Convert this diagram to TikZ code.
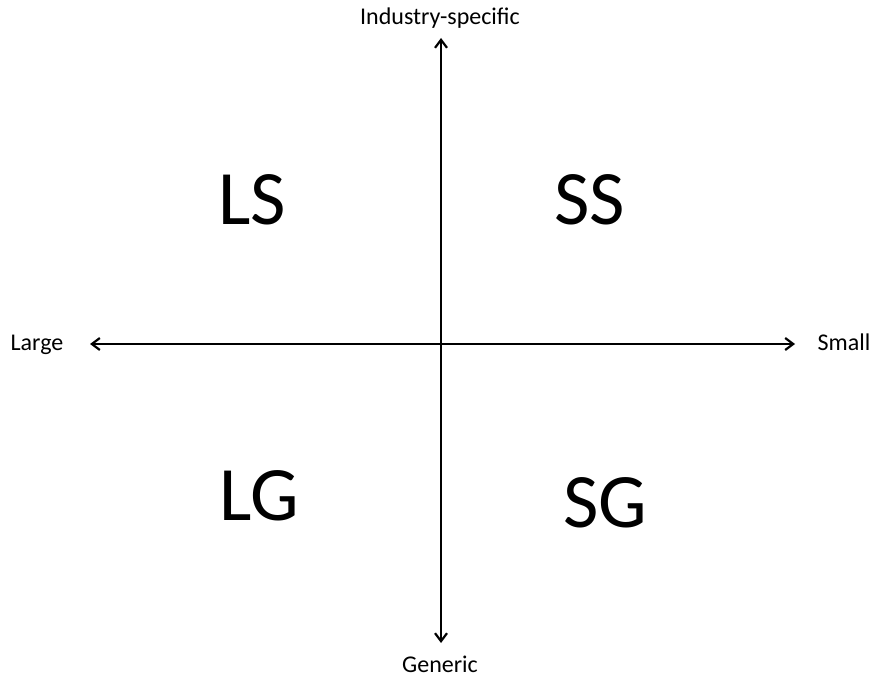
\documentclass[tikz,border=0pt]{standalone}
\usepackage{fontspec}
\setmainfont{Carlito}
\usepackage{xcolor}
\usetikzlibrary{arrows.meta,positioning}

\begin{document}
\begin{tikzpicture}[x=1pt, y=-1pt,
  axis/.style={line width=2.2pt, {Straight Barb[length=8pt,width=12pt]}-{Straight Barb[length=8pt,width=12pt]}},
  axislabel/.style={font=\fontsize{24}{28}\selectfont, anchor=base, inner sep=0pt},
  quad/.style={font=\fontsize{77}{90}\selectfont, anchor=base, inner sep=0pt}]
  \useasboundingbox (0,0) rectangle (871,679);
  % axis ends
  \coordinate (top) at (441,38);
  \coordinate (bottom) at (441,643);
  \coordinate (left) at (90,344);
  \coordinate (right) at (795,344);
  \draw[axis] (bottom) -- (top);
  \draw[axis] (left) -- (right);
  % axis labels
  \node[axislabel] (ind) at (440,25) {Industry-specific};
  \node[axislabel] (gen) at (440,672) {Generic};
  \node[axislabel] (large) at (37,351) {Large};
  \node[axislabel] (small) at (844,351) {Small};
  % quadrants
  \node[quad] (LS) at (252,225) {LS};
  \node[quad] (SS) at (590,225) {SS};
  \node[quad] (LG) at (259,520) {LG};
  \node[quad] (SG) at (605,527) {SG};
\end{tikzpicture}
\end{document}
